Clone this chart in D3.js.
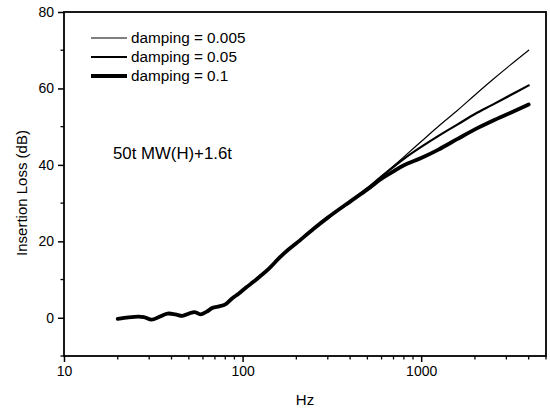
<!DOCTYPE html>
<html>
<head>
<meta charset="utf-8">
<script src="https://cdn.jsdelivr.net/npm/d3@7"></script>
<style>
html,body{margin:0;padding:0;background:#fff;}
svg{display:block;font-family:"Liberation Sans",Arial,sans-serif;}
</style>
</head>
<body>
<svg id="chart" width="550" height="409"></svg>
<script>
// ---- data ----
const freqHz = [20,23,26,28,31,34,38,42,46,50,54,58,63,68,74,80,88,95,105,115,125,140,160,180,200,250,300,400,500,600,700,800,1000,1250,1600,2000,2500,3150,4000];
const damping0005 = [-0.3,0.1,0.3,0.2,-0.5,0.2,1.1,0.9,0.5,1.1,1.5,0.9,1.6,2.6,3.0,3.5,5.2,6.3,8.0,9.4,10.8,12.8,15.6,17.8,19.5,23.3,26.2,30.4,33.9,37.0,39.7,42.1,46.1,50.1,54.3,58.3,62.2,66.1,70.0];
const damping005  = [-0.3,0.1,0.3,0.2,-0.5,0.2,1.1,0.9,0.5,1.1,1.5,0.9,1.6,2.6,3.0,3.5,5.2,6.3,8.0,9.4,10.8,12.8,15.6,17.8,19.5,23.3,26.2,30.4,33.9,37.0,39.5,41.6,44.7,47.6,50.6,53.3,55.7,58.2,60.8];
const damping01   = [-0.3,0.1,0.3,0.2,-0.5,0.2,1.1,0.9,0.5,1.1,1.5,0.9,1.6,2.6,3.0,3.5,5.2,6.3,8.0,9.4,10.8,12.8,15.6,17.8,19.5,23.3,26.2,30.4,33.6,36.4,38.3,39.9,41.8,44.0,46.8,49.3,51.5,53.6,55.8];
const seriesNames = ["damping = 0.005","damping = 0.05","damping = 0.1"];
const seriesWidths = [1.2, 2.2, 3.8];
const xTickValues = [10,100,1000];
const yTickValues = [0,20,40,60,80];
const annotation = "50t MW(H)+1.6t";
const xTitle = "Hz";
const yTitle = "Insertion Loss (dB)";

// ---- layout ----
const svg = d3.select("#chart");
const L = 64, R = 546, T = 12, B = 356;
const x = d3.scaleLog().domain([10,5000]).range([L,R]);
const y = d3.scaleLinear().domain([-10,80]).range([B,T]);

const series = [damping0005, damping005, damping01];

// curves (thick first so thin sits on top)
const line = d3.line().x(d=>x(d[0])).y(d=>y(d[1])).curve(d3.curveCatmullRom.alpha(0.5));
[2,1,0].forEach(i=>{
  svg.append("path")
    .datum(freqHz.map((f,k)=>[f, series[i][k]]))
    .attr("d", line)
    .attr("fill","none")
    .attr("stroke","#000")
    .attr("stroke-width", seriesWidths[i])
    .attr("stroke-linejoin","round")
    .attr("stroke-linecap","round");
});

// frame
svg.append("rect").attr("x",L).attr("y",T).attr("width",R-L).attr("height",B-T)
  .attr("fill","none").attr("stroke","#000").attr("stroke-width",1.8);

// x axis
const minorX = [];
[10,100,1000].forEach(d=>{for(let m=2;m<=9;m++){const v=d*m; if(v<=5000) minorX.push(v);}});
const gx = svg.append("g").attr("transform",`translate(0,${B})`);
gx.call(d3.axisBottom(x).tickValues(xTickValues).tickFormat(d3.format("d")).tickSize(6).tickPadding(4));
gx.selectAll(".tick text").attr("font-size",14).attr("font-family","Liberation Sans, Arial, sans-serif");
gx.select(".domain").remove();
gx.selectAll(".tick line").attr("stroke-width",1.5);
svg.append("g").selectAll("line").data(minorX).join("line")
  .attr("x1",d=>x(d)).attr("x2",d=>x(d)).attr("y1",B).attr("y2",B+3.5)
  .attr("stroke","#000").attr("stroke-width",1.3);

// y axis
const gy = svg.append("g").attr("transform",`translate(${L},0)`);
gy.call(d3.axisLeft(y).tickValues(yTickValues).tickSize(6).tickPadding(4));
gy.selectAll(".tick text").attr("font-size",14).attr("font-family","Liberation Sans, Arial, sans-serif");
gy.select(".domain").remove();
gy.selectAll(".tick line").attr("stroke-width",1.5);
svg.append("g").selectAll("line").data([-10,10,30,50,70]).join("line")
  .attr("x1",L-3.5).attr("x2",L).attr("y1",d=>y(d)).attr("y2",d=>y(d))
  .attr("stroke","#000").attr("stroke-width",1.3);

// titles
svg.append("text").attr("x",(L+R)/2).attr("y",405).attr("text-anchor","middle")
  .attr("font-size",15).text(xTitle);
svg.append("text").attr("transform",`translate(27,193) rotate(-90)`)
  .attr("text-anchor","middle").attr("font-size",15).text(yTitle);

// legend
const lg = svg.append("g");
seriesNames.forEach((n,i)=>{
  const yy = 38 + i*19;
  lg.append("line").attr("x1",91).attr("x2",127).attr("y1",yy).attr("y2",yy)
    .attr("stroke","#000").attr("stroke-width",seriesWidths[i]);
  lg.append("text").attr("x",131).attr("y",yy+5).attr("font-size",15.3).text(n);
});

// annotation
svg.append("text").attr("x",113).attr("y",159).attr("font-size",16.8).text(annotation);
</script>
</body>
</html>
